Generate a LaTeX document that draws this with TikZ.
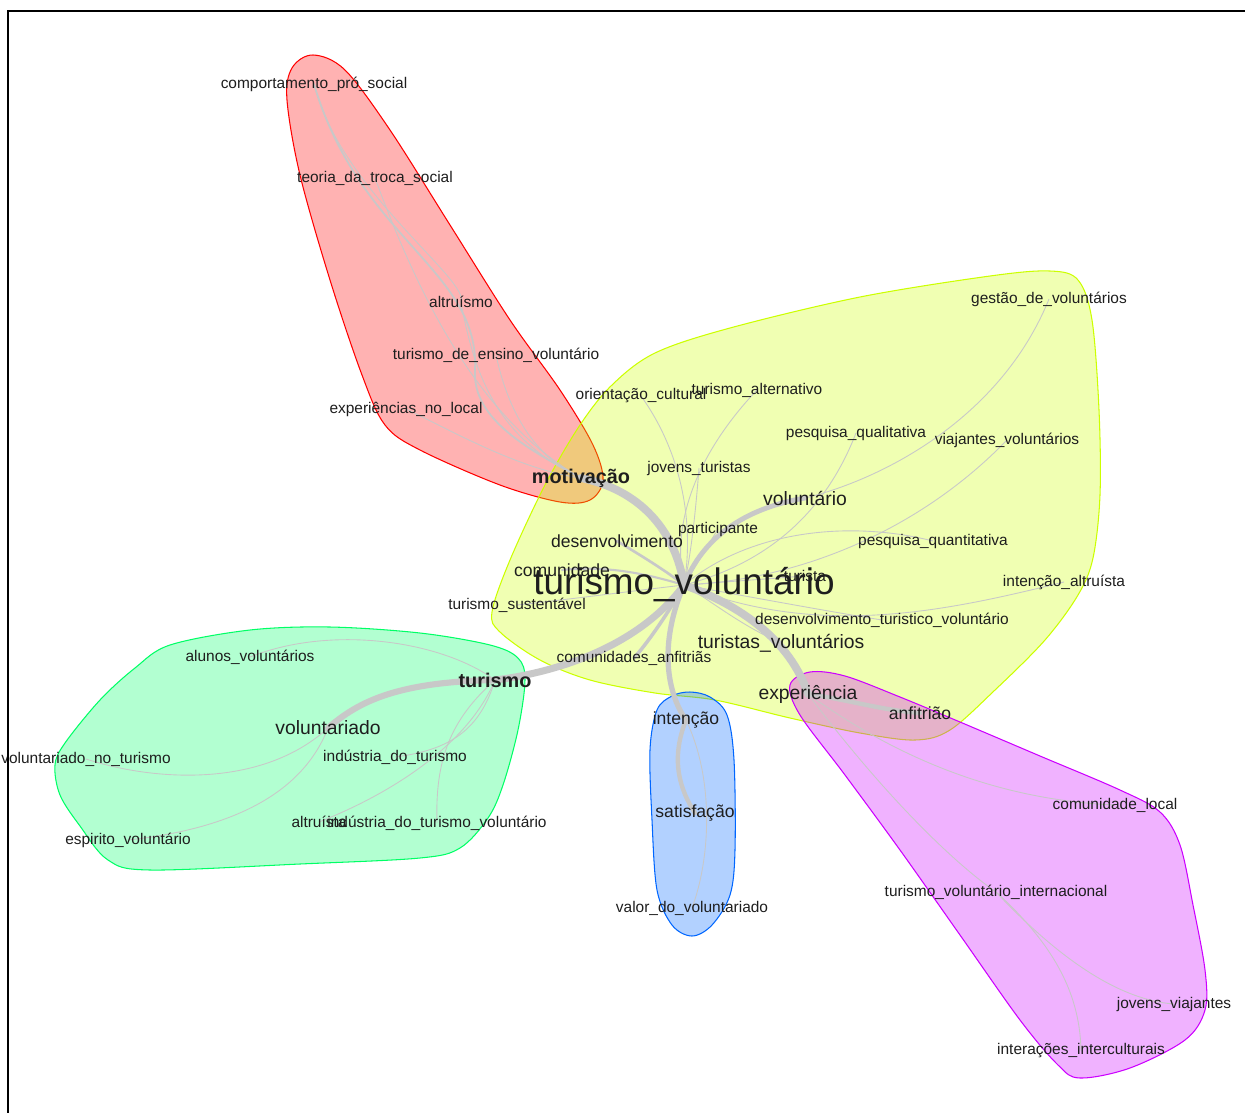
\documentclass[tikz,border=0pt]{standalone}
\usepackage{fontspec}
\setmainfont{Liberation Sans}
\definecolor{grpred}{HTML}{FF0000}
\definecolor{grpyellow}{HTML}{CCFF00}
\definecolor{grpgreen}{HTML}{00FF66}
\definecolor{grpblue}{HTML}{0066FF}
\definecolor{grppurple}{HTML}{CC00FF}
\definecolor{edgegrey}{RGB}{200,200,200}
\definecolor{lblcol}{RGB}{30,30,30}
\pgfdeclarelayer{hulls}
\pgfdeclarelayer{edges}
\pgfsetlayers{hulls,edges,main}

\begin{document}
\begin{tikzpicture}[x=0.02cm, y=-0.02cm,
    lbl/.style={inner sep=0pt, text=lblcol, font=\fontsize{8.8}{10}\selectfont},
    mid/.style={inner sep=0pt, text=lblcol, font=\fontsize{10}{12}\selectfont},
    big/.style={inner sep=0pt, text=lblcol, font=\fontsize{11}{13}\selectfont},
    hub/.style={inner sep=0pt, text=lblcol, font=\fontsize{11.3}{13}\selectfont\bfseries},
    tie/.style={draw=edgegrey, line width=0.5pt},
    band/.style={draw=edgegrey, line cap=round, line width=#1},
    hull/.style={fill opacity=0.3, line width=0.6pt}]
    \useasboundingbox (0,0) rectangle (1245,1113);
    \clip (0,0) rectangle (1245,1113);

    % motivacao group
    \node[lbl] (cps) at (314,84) {comportamento\_pró\_social};
    \node[lbl] (tts) at (375,178) {teoria\_da\_troca\_social};
    \node[lbl] (alt) at (461,302) {altruísmo};
    \node[lbl] (tev) at (496,355) {turismo\_de\_ensino\_voluntário};
    \node[lbl] (enl) at (406,409) {experiências\_no\_local};
    \node[hub] (mot) at (581,478) {motivação};

    % turismo_voluntario group
    \node[lbl] (orc) at (641,396) {orientação\_cultural};
    \node[lbl] (tal) at (757,390) {turismo\_alternativo};
    \node[lbl] (gdv) at (1049,299) {gestão\_de\_voluntários};
    \node[lbl] (pql) at (856,433) {pesquisa\_qualitativa};
    \node[lbl] (vvl) at (1007,440) {viajantes\_voluntários};
    \node[lbl] (jtu) at (699,468) {jovens\_turistas};
    \node[big] (vol) at (805,498) {voluntário};
    \node[lbl] (par) at (718,529) {participante};
    \node[mid] (des) at (617,541) {desenvolvimento};
    \node[lbl] (pqt) at (933,541) {pesquisa\_quantitativa};
    \node[mid] (com) at (562,570) {comunidade};
    \node[lbl] (tur) at (805,576) {turista};
    \node[inner sep=0pt, text=lblcol, font=\fontsize{21}{24}\selectfont] (tv) at (684,585) {turismo\_voluntário};
    \node[lbl] (ial) at (1064,582) {intenção\_altruísta};
    \node[lbl] (tsu) at (517,605) {turismo\_sustentável};
    \node[lbl] (dtv) at (882,620) {desenvolvimento\_turistico\_voluntário};
    \node[big] (tvs) at (781,643) {turistas\_voluntários};
    \node[lbl] (can) at (634,658) {comunidades\_anfitriãs};

    % turismo group
    \node[lbl] (alu) at (250,657) {alunos\_voluntários};
    \node[hub] (tsm) at (495,680) {turismo};
    \node[big] (vdo) at (328,728) {voluntariado};
    \node[lbl, anchor=east] (vnt) at (171,759) {voluntariado\_no\_turismo};
    \node[lbl] (idt) at (395,757) {indústria\_do\_turismo};
    \node[lbl] (alr) at (319,822) {altruísta};
    \node[lbl] (itv) at (437,823) {indústria\_do\_turismo\_voluntário};
    \node[lbl] (esv) at (128,840) {espirito\_voluntário};

    % intencao group
    \node[mid] (itc) at (686,720) {intenção};
    \node[mid] (sat) at (695,813) {satisfação};
    \node[lbl] (vdv) at (692,908) {valor\_do\_voluntariado};

    % experiencia group
    \node[big] (exp) at (808,694) {experiência};
    \node[mid] (anf) at (920,713) {anfitrião};
    \node[lbl] (cml) at (1115,805) {comunidade\_local};
    \node[lbl] (tvi) at (996,892) {turismo\_voluntário\_internacional};
    \node[lbl] (jvi) at (1174,1004) {jovens\_viajantes};
    \node[lbl] (iic) at (1081,1051) {interações\_interculturais};

    \begin{pgfonlayer}{hulls}
    \draw[hull, fill=grpred, draw=grpred] plot[smooth cycle, tension=0.55] coordinates {
        (313,55) (292,68) (287,100) (300,175) (330,280) (362,375) (385,425) (420,450)
        (500,485) (560,502) (590,500) (603,480) (593,445) (560,390) (510,320) (450,225)
        (390,130) (345,70)};
    \draw[hull, fill=grpyellow, draw=grpyellow] plot[smooth cycle, tension=0.55] coordinates {
        (492,612) (510,560) (545,485) (580,425) (612,385) (655,353) (730,328) (860,297)
        (990,276) (1050,271) (1078,280) (1092,320) (1099,410) (1100,495) (1093,558)
        (1078,595) (1045,640) (995,690) (950,730) (915,740) (860,733) (790,718) (715,700)
        (655,693) (590,680) (540,660) (500,632)};
    \draw[hull, fill=grpgreen, draw=grpgreen] plot[smooth cycle, tension=0.55] coordinates {
        (170,645) (250,630) (330,627) (420,633) (490,645) (518,658) (525,680) (518,730)
        (503,785) (488,818) (460,848) (420,858) (300,864) (150,870) (108,860) (80,826)
        (60,795) (55,765) (65,743) (100,700) (135,668)};
    \draw[hull, fill=grpblue, draw=grpblue] plot[smooth cycle, tension=0.55] coordinates {
        (690,692) (710,697) (727,715) (734,760) (735,850) (730,895) (712,925) (692,936)
        (672,925) (657,890) (652,820) (650,750) (657,710) (672,696)};
    \draw[hull, fill=grppurple, draw=grppurple] plot[smooth cycle, tension=0.55] coordinates {
        (790,685) (810,672) (845,676) (900,697) (960,722) (1040,756) (1120,790) (1160,812)
        (1180,845) (1193,905) (1205,970) (1205,1010) (1185,1040) (1130,1068) (1080,1078)
        (1058,1065) (1020,1020) (960,935) (900,850) (845,775) (800,715)};
    \end{pgfonlayer}

    \begin{pgfonlayer}{edges}
    % heavy ties round the centre
    \draw[band=4.5pt] (mot.center) .. controls (640,490) and (675,530) .. (tv.center);
    \draw[band=2.8pt] (vol.center) .. controls (735,510) and (700,545) .. (tv.center);
    \draw[band=4pt] (tsm.center) .. controls (560,672) and (640,645) .. (tv.center);
    \draw[band=3.5pt] (tsm.center) .. controls (400,682) and (360,700) .. (vdo.center);
    \draw[band=4.5pt] (tv.center) .. controls (740,605) and (790,640) .. (exp.center);
    \draw[band=2.5pt] (exp.center) .. controls (850,700) and (880,710) .. (anf.center);
    \draw[band=3pt] (tv.center) .. controls (660,640) and (665,690) .. (itc.center);
    \draw[band=2.5pt] (itc.center) .. controls (670,760) and (680,790) .. (sat.center);
    \draw[band=1.5pt] (des.center) .. controls (640,555) and (665,570) .. (tv.center);
    \draw[band=1.2pt] (com.center) .. controls (610,565) and (650,575) .. (tv.center);
    \draw[band=2pt] (can.center) .. controls (650,640) and (670,610) .. (tv.center);
    \draw[band=1pt] (cps.center) .. controls (360,240) and (480,270) .. (475,370)
        .. controls (472,420) and (530,450) .. (mot.center);
    % motivacao
    \draw[tie] (cps.center) .. controls (340,190) and (470,280) .. (alt.center);
    \draw[tie] (alt.center) .. controls (475,380) and (500,440) .. (mot.center);
    \draw[tie] (tts.center) .. controls (420,300) and (480,420) .. (mot.center);
    \draw[tie] (tev.center) .. controls (510,420) and (540,460) .. (mot.center);
    \draw[tie] (enl.center) .. controls (450,430) and (520,470) .. (mot.center);
    % turismo_voluntario
    \draw[tie] (tsu.center) .. controls (580,598) and (640,590) .. (tv.center);
    \draw[tie] (orc.center) .. controls (680,450) and (695,520) .. (tv.center);
    \draw[tie] (tal.center) .. controls (700,450) and (670,520) .. (tv.center);
    \draw[tie] (jtu.center) .. controls (695,520) and (690,560) .. (tv.center);
    \draw[tie] (par.center) -- (tv.center);
    \draw[tie] (gdv.center) .. controls (1000,420) and (880,480) .. (vol.center);
    \draw[tie] (pql.center) .. controls (830,500) and (780,560) .. (tv.center);
    \draw[tie] (vvl.center) .. controls (920,530) and (800,580) .. (tv.center);
    \draw[tie] (pqt.center) .. controls (850,520) and (750,530) .. (tv.center);
    \draw[tie] (ial.center) .. controls (950,610) and (820,640) .. (tv.center);
    \draw[tie] (dtv.center) .. controls (820,610) and (740,595) .. (tv.center);
    \draw[tie] (tur.center) -- (tv.center);
    \draw[tie] (tvs.center) .. controls (740,625) and (710,600) .. (tv.center);
    % turismo
    \draw[tie] (tsm.center) .. controls (440,640) and (330,625) .. (alu.center);
    \draw[tie] (vdo.center) .. controls (260,790) and (150,780) .. (vnt.center);
    \draw[tie] (tsm.center) .. controls (480,730) and (450,750) .. (idt.center);
    \draw[tie] (tsm.center) .. controls (470,740) and (400,790) .. (alr.center);
    \draw[tie] (tsm.center) .. controls (450,720) and (435,760) .. (itv.center);
    \draw[tie] (vdo.center) .. controls (300,800) and (220,830) .. (esv.center);
    % intencao
    \draw[tie] (itc.center) .. controls (715,780) and (710,860) .. (vdv.center);
    % experiencia
    \draw[tie] (exp.center) .. controls (900,760) and (1000,800) .. (cml.center);
    \draw[tie] (exp.center) .. controls (880,790) and (950,860) .. (tvi.center);
    \draw[tie] (tvi.center) .. controls (1060,960) and (1120,1000) .. (jvi.center);
    \draw[tie] (tvi.center) .. controls (1060,950) and (1080,1000) .. (iic.center);
    \end{pgfonlayer}

    \draw[line width=1.7pt] (8,1113) -- (8,11) -- (1245,11);
\end{tikzpicture}
\end{document}
